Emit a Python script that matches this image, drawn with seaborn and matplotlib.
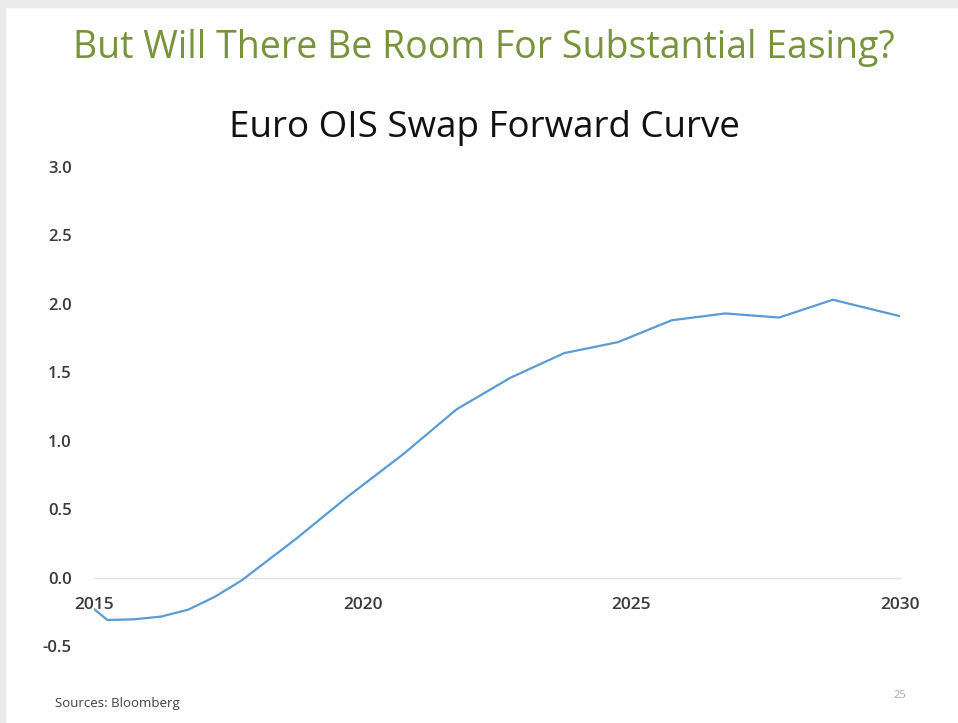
import matplotlib
matplotlib.use("Agg")
import matplotlib.pyplot as plt
import seaborn as sns
import pandas as pd

# Euro OIS forward curve (decimal year, forward rate %)
years = [2015.0, 2015.25, 2015.75, 2016.25, 2016.75, 2017.25, 2017.75,
         2018.75, 2019.75, 2020.75, 2021.75, 2022.75, 2023.75, 2024.75,
         2025.75, 2026.75, 2027.75, 2028.75, 2030.0]
rates = [-0.23, -0.31, -0.305, -0.285, -0.235, -0.14, -0.02,
         0.28, 0.60, 0.90, 1.23, 1.46, 1.64, 1.72,
         1.88, 1.93, 1.90, 2.03, 1.91]
x_ticks = [2015, 2020, 2025, 2030]
y_ticks = [-0.5, 0.0, 0.5, 1.0, 1.5, 2.0, 2.5, 3.0]

df = pd.DataFrame({"year": years, "rate": rates})

sns.set_theme(style="white")
plt.rcParams["font.family"] = ["Open Sans", "DejaVu Sans"]

W, H = 958, 723
fig = plt.figure(figsize=(W / 100, H / 100), dpi=100)
fig.patch.set_facecolor("white")

# slide frame
fig.add_artist(plt.Rectangle((0, 1 - 7 / H), 1, 7 / H, transform=fig.transFigure,
                             color="#ebebeb", zorder=0))
fig.add_artist(plt.Rectangle((0, 0), 5 / W, 1, transform=fig.transFigure,
                             color="#ebebeb", zorder=0))

left, right = 94 / W, 900 / W
top, bottom = 1 - 167 / H, 1 - 646 / H
ax = fig.add_axes([left, bottom, right - left, top - bottom])

sns.lineplot(data=df, x="year", y="rate", ax=ax, color="#5B9BD5", linewidth=1.6)

ax.set_xlim(2015, 2030)
ax.set_ylim(-0.5, 3.0)
ax.set_xticks(x_ticks)
ax.set_xticklabels([str(t) for t in x_ticks])
ax.set_yticks(y_ticks)
ax.set_yticklabels([f"{t:.1f}" for t in y_ticks])
ax.set_xlabel("")
ax.set_ylabel("")

for s in ["left", "right", "top"]:
    ax.spines[s].set_visible(False)
ax.spines["bottom"].set_position(("data", 0))
ax.spines["bottom"].set_color("#e3e3e3")
ax.spines["bottom"].set_linewidth(1.0)
ax.spines["bottom"].set_zorder(0)

ax.tick_params(axis="x", length=0, pad=14, labelsize=12.5, labelcolor="#3a3a3a")
ax.tick_params(axis="y", length=0, pad=16, labelsize=12, labelcolor="#3a3a3a")
for lbl in ax.get_xticklabels() + ax.get_yticklabels():
    lbl.set_fontweight("semibold")

fig.text(484 / W, 1 - 48 / H, "But Will There Be Room For Substantial Easing?",
         ha="center", va="center", fontsize=27, color="#77933C")
fig.text(484 / W, 1 - 128 / H, "Euro OIS Swap Forward Curve",
         ha="center", va="center", fontsize=26.5, color="#111111")
fig.text(55 / W, 1 - 703 / H, "Sources: Bloomberg", ha="left", va="center",
         fontsize=9.5, color="#404040")
fig.text(900 / W, 1 - 695 / H, "25", ha="center", va="center",
         fontsize=8, color="#a6a6a6")

fig.savefig("out.png", dpi=100, facecolor="white")
